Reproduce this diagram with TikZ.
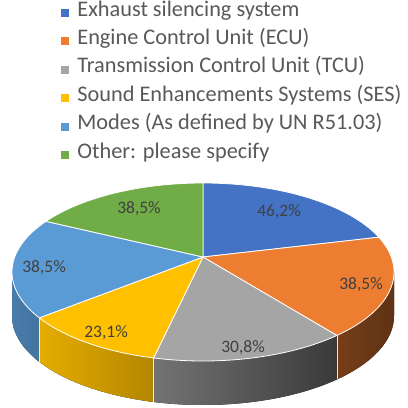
\documentclass[tikz,border=0pt]{standalone}
\usepackage{fontspec}
\setmainfont{Carlito}
\usetikzlibrary{positioning,calc}
\definecolor{pieBlue}{HTML}{4472C4}
\definecolor{pieOrange}{HTML}{ED7D31}
\definecolor{pieGray}{HTML}{A5A5A5}
\definecolor{pieYellow}{HTML}{FFC000}
\definecolor{pieLBlue}{HTML}{5B9BD5}
\definecolor{pieGreen}{HTML}{70AD47}
\definecolor{pctText}{HTML}{404040}
\definecolor{legText}{HTML}{595959}

\begin{document}
\begin{tikzpicture}[
	x=1pt, y=1pt,
	% bords blancs entre les parts
	slice/.style={draw=white, line width=0.8pt, line join=round},
	sidewall/.style={draw=white!85!gray, line width=0.6pt, line join=round},
	pct/.style={font=\fontsize{17.5}{17.5}\selectfont, text=pctText, inner sep=0pt},
	legbox/.style={fill=#1, minimum size=8pt, inner sep=0pt},
	legtext/.style={font=\fontsize{22.3}{22.3}\selectfont, text=legText,
		inner sep=0pt, text height=0.64em, text depth=0pt}
	]
	\useasboundingbox (0,0) rectangle (408,408);
	\fill[white] (0,0) rectangle (408,408);
	
	% Legende
	\node[legbox=pieBlue] (sq1) at (65,395) {};
	\node[legbox=pieOrange, below=20pt of sq1] (sq2) {};
	\node[legbox=pieGray, below=20pt of sq2] (sq3) {};
	\node[legbox=pieYellow, below=20pt of sq3] (sq4) {};
	\node[legbox=pieLBlue, below=20pt of sq4] (sq5) {};
	\node[legbox=pieGreen, below=20pt of sq5] (sq6) {};
	\node[legtext, right=8pt of sq1] (lg1) {Exhaust silencing system};
	\node[legtext, right=8pt of sq2] (lg2) {Engine Control Unit (ECU)};
	\node[legtext, right=8pt of sq3] (lg3) {Transmission Control Unit (TCU)};
	\node[legtext, right=8pt of sq4] (lg4) {Sound Enhancements Systems (SES)};
	\node[legtext, right=8pt of sq5] (lg5) {Modes (As defined by UN R51.03)};
	\node[legtext, right=8pt of sq6] (lg6) {Other: please specify};
	
	% Camembert : centre de l'ellipse et sommet des parts
	\coordinate (ctr) at (203,136);
	\coordinate (apex) at (203,151);
	
	% Flancs (epaisseur 44)
	\fill[left color=pieLBlue!80!black, right color=pieLBlue!75!black]
		($(ctr)+(-180:191 and 89)$) arc[start angle=-180, end angle=-149, x radius=191pt, y radius=89pt]
		-- ++(0,-44) arc[start angle=-149, end angle=-180, x radius=191pt, y radius=89pt] -- cycle;
	\fill[left color=pieYellow!90!black, right color=pieYellow!70!black]
		($(ctr)+(-149:191 and 89)$) arc[start angle=-149, end angle=-105, x radius=191pt, y radius=89pt]
		-- ++(0,-44) arc[start angle=-105, end angle=-149, x radius=191pt, y radius=89pt] -- cycle;
	\fill[left color=pieGray!70!black, right color=pieGray!35!black]
		($(ctr)+(-105:191 and 89)$) arc[start angle=-105, end angle=-45.5, x radius=191pt, y radius=89pt]
		-- ++(0,-44) arc[start angle=-45.5, end angle=-105, x radius=191pt, y radius=89pt] -- cycle;
	\fill[left color=pieOrange!50!black, right color=pieOrange!40!black]
		($(ctr)+(-45.5:191 and 89)$) arc[start angle=-45.5, end angle=0, x radius=191pt, y radius=89pt]
		-- ++(0,-44) arc[start angle=0, end angle=-45.5, x radius=191pt, y radius=89pt] -- cycle;
	\foreach \a in {-149,-105,-45.5}
		\draw[sidewall] ($(ctr)+(\a:191 and 89)$) -- ++(0,-44);
	
	% Dessus
	\filldraw[slice, fill=pieBlue] (apex) -- ($(ctr)+(90:191 and 89)$)
		arc[start angle=90, end angle=23, x radius=191pt, y radius=89pt] -- cycle;
	\filldraw[slice, fill=pieOrange] (apex) -- ($(ctr)+(23:191 and 89)$)
		arc[start angle=23, end angle=-45.5, x radius=191pt, y radius=89pt] -- cycle;
	\filldraw[slice, fill=pieGray] (apex) -- ($(ctr)+(-45.5:191 and 89)$)
		arc[start angle=-45.5, end angle=-105, x radius=191pt, y radius=89pt] -- cycle;
	\filldraw[slice, fill=pieYellow] (apex) -- ($(ctr)+(-105:191 and 89)$)
		arc[start angle=-105, end angle=-149, x radius=191pt, y radius=89pt] -- cycle;
	\filldraw[slice, fill=pieLBlue] (apex) -- ($(ctr)+(-149:191 and 89)$)
		arc[start angle=-149, end angle=-214.7, x radius=191pt, y radius=89pt] -- cycle;
	\filldraw[slice, fill=pieGreen] (apex) -- ($(ctr)+(145.3:191 and 89)$)
		arc[start angle=145.3, end angle=90, x radius=191pt, y radius=89pt] -- cycle;
	
	% Pourcentages
	\node[pct] (p1) at (279,196) {46,2\%};
	\node[pct] (p2) at (361,123) {38,5\%};
	\node[pct] (p3) at (243,60) {30,8\%};
	\node[pct] (p4) at (106,75) {23,1\%};
	\node[pct] (p5) at (44,140) {38,5\%};
	\node[pct] (p6) at (139,199) {38,5\%};
\end{tikzpicture}
\end{document}
